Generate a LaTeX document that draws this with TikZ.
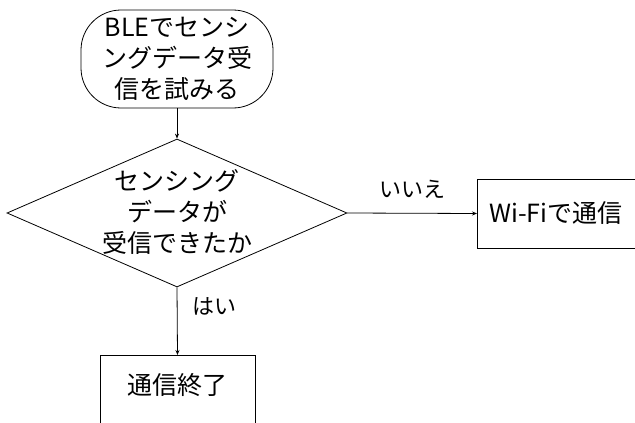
\documentclass[tikz,border=0pt]{standalone}
\usepackage{fontspec}
\setmainfont{Noto Sans CJK JP}
\usetikzlibrary{shapes.geometric,arrows.meta}
\begin{document}
\begin{tikzpicture}[x=1pt,y=-1pt,
  every node/.style={font=\fontsize{25}{31}\selectfont, inner sep=0pt, align=center},
  shape box/.style={draw, line width=0.8pt},
  conn/.style={line width=0.8pt, -{Stealth[length=5pt,width=4pt]}},
  lbl/.style={font=\fontsize{22}{28}\selectfont}
]
\useasboundingbox (0,0) rectangle (635,423);
\clip (0,0) rectangle (635,423);
\node[shape box, rectangle, rounded corners=40pt, minimum width=192pt, minimum height=98pt] (start) at (177,59) {};
\node at (177,59) (starttext) {BLEでセンシ\\ングデータ受\\信を試みる};
\node[shape box, diamond, minimum width=340pt, minimum height=148pt] (dec) at (177,213) {};
\node at (177,212) (dectext) {センシング\\データが\\受信できたか};
\node[shape box, rectangle, minimum width=160pt, minimum height=69pt, anchor=west] (wifi) at (477,213.5) {};
\node at (556,213) (wifitext) {Wi-Fiで通信};
\node[shape box, rectangle, minimum width=155pt, minimum height=75pt, anchor=north] (end) at (177.5,355) {};
\node at (177.5,385) (endtext) {通信終了};
\draw[conn] (start.south) -- (dec.north);
\draw[conn] (dec.east) -- node[lbl, above=14pt] (no) {いいえ} (wifi.west);
\draw[conn] (dec.south) -- node[lbl, right=15pt, pos=0.28] (yes) {はい} (end.north);
\end{tikzpicture}
\end{document}
